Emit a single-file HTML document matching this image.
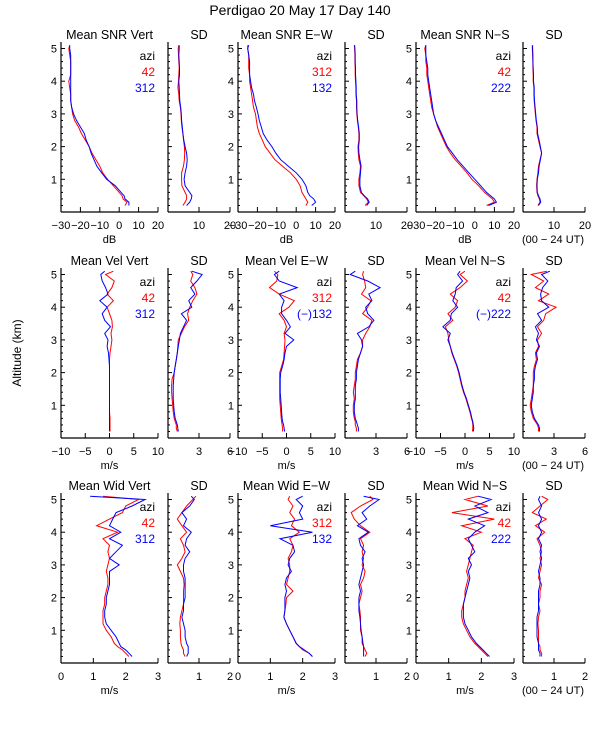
<!DOCTYPE html>
<html><head><meta charset="utf-8"><style>
html,body{margin:0;padding:0;background:#fff}
svg{display:block}
text{font-family:"Liberation Sans",sans-serif;font-size:11px;fill:#000}
</style></head><body>
<svg id="chart" width="600" height="750" viewBox="0 0 600 750" xmlns="http://www.w3.org/2000/svg">
<text x="300" y="15" text-anchor="middle" style="font-size:14px">Perdigao  20 May 17 Day 140</text>
<text x="21" y="353" text-anchor="middle" transform="rotate(-90 21 353)" style="font-size:12px">Altitude (km)</text>
</svg>
<script>
const alts=[0.2,0.3,0.4,0.5,0.6,0.8,1.0,1.2,1.4,1.6,1.8,2.0,2.2,2.4,2.6,2.8,3.0,3.2,3.4,3.6,3.8,4.0,4.2,4.4,4.6,4.8,5.0,5.1];
const snrVertRed=[3,4,2,1.5,0,-3,-6,-8.5,-10,-12,-14,-15.5,-17.5,-19.5,-21,-23,-24,-24.5,-25,-25,-25.5,-26,-25,-25,-25,-25.5,-26,-25.5];
const snrVertBlue=[5,5,3,2.5,1,-2,-6.5,-9,-11.5,-13,-14.5,-15.5,-17,-18,-20,-22,-23.5,-24.5,-25,-25,-25,-25,-25,-25,-25,-25,-25.5,-25.5];
const snrVertSdRed=[4.8,5.5,6,6,5.5,4.5,4.4,4.4,5,5.3,5.4,5.3,5,4.8,4.5,4.3,4.2,4,3.6,3.5,3.2,3.4,3.5,3.6,3.5,3.4,3.3,3.5];
const snrVertSdBlue=[6,7,7.5,7.7,7,5.5,5.2,5.5,6,6.2,6,5.5,5.1,4.8,4.6,4.4,4.3,4.1,3.8,3.7,3.6,3.5,3.7,3.7,3.6,3.5,3.6,3.6];
const snrEwRed=[5,6,5,4,3,2,0,-3,-7,-11,-13.5,-16,-17.5,-19,-20,-20.5,-21,-22,-22.5,-23,-23.5,-24,-24,-24.5,-24.5,-24.5,-25,-25];
const snrEwBlue=[8,10,9,7,6,5,3,0,-4,-8,-10.5,-12.5,-15,-17,-18,-19,-19.7,-20.5,-21.5,-22,-23,-23.5,-24,-24,-24,-24.5,-25,-24.5];
const snrEwSdRed=[6.5,7.5,7,6,5,4.5,4.5,4.8,5,4.5,4.3,4.2,4.5,4.5,4.3,4,3.8,3.7,3.7,3.5,3.5,3.4,3.3,3.3,3.2,3.2,3.1,3];
const snrEwSdBlue=[7,7.8,7.3,6.2,5.3,4.8,4.8,5,5.2,4.8,4.5,4.4,4.6,4.6,4.4,4.1,3.9,3.8,3.8,3.6,3.6,3.5,3.4,3.4,3.3,3.3,3.2,3.1];
const snrNsRed=[6,10,9,7,5,2,-1.5,-4,-7,-10,-12.5,-14.5,-16,-17.5,-19,-20,-21,-22,-22.5,-23,-23.5,-24,-24.5,-24.5,-25,-25,-25.5,-25];
const snrNsBlue=[7,11,10,8,6,3,0,-3,-6,-9,-11.5,-14,-15.5,-17,-18.5,-20,-21,-21.5,-22,-22.5,-23,-23.5,-24,-24,-24.5,-25,-25,-25];
const snrNsSdRed=[4.8,5.5,5.3,4.8,4.5,4.4,4.5,4.8,5,5.5,6,5.5,5,4.5,4.5,4.2,4,3.8,3.6,3.5,3.5,3.3,3.3,3.2,3.2,3.1,3,3];
const snrNsSdBlue=[5,5.7,5.5,5,4.6,4.5,4.6,5,5.2,5.6,6,5.6,5.2,4.7,4.6,4.3,4.1,3.9,3.7,3.6,3.6,3.4,3.4,3.3,3.2,3.2,3.1,3.1];
const velVertRed=[0.1,0.1,0.1,0.1,0.1,0,0,0,0,0,0,0,0,0,0.1,0.3,0.5,0.3,0.6,0.5,0,-0.5,0.8,-0.5,0.5,1,-0.8,0.8];
const velVertBlue=[0,0,0,0,0,0,0,0,0,0,0,0,0,-0.1,-0.2,-0.5,-0.3,-1,0.2,-1,-1.5,-0.5,-2,-0.3,-0.8,-1.5,-1.8,-1];
const velVertSdRed=[0.9,0.8,0.8,0.7,0.6,0.5,0.45,0.4,0.35,0.35,0.4,0.6,0.7,0.8,0.9,0.95,1.0,1.3,1.6,2.0,1.9,2.1,2.4,2.8,2.6,2.2,2.4,2.2];
const velVertSdBlue=[1.0,0.95,0.9,0.8,0.7,0.6,0.55,0.5,0.5,0.5,0.55,0.6,0.7,0.8,0.9,1.0,1.1,1.2,1.5,1.8,1.3,2.3,2.0,2.6,2.2,2.8,3.3,2.3];
const velEwRed=[-0.8,-0.8,-0.9,-1.0,-1.1,-1.2,-1.3,-1.4,-1.4,-1.4,-1.4,-1.4,-1.0,-0.6,-0.5,-0.4,-0.3,-0.5,0,-0.5,-1.5,0.5,1.6,-1.5,-3.5,-2,-1.8,-2.5];
const velEwBlue=[-0.4,-0.5,-0.6,-0.8,-0.9,-1.0,-1.1,-1.2,-1.3,-1.3,-1.3,-1.2,-0.8,-0.5,-0.3,0,1.5,-0.3,0.8,0,-1,-1,-0.5,-1.5,2.2,-1.5,-2.5,-1.5];
const velEwSdRed=[1.1,1.1,1.0,1.0,0.9,0.8,0.8,0.9,0.8,0.9,1.0,1.0,1.1,1.2,1.5,1.7,1.7,2.0,2.4,2.6,1.7,2.2,2.5,1.6,2.0,1.9,1.7,1.8];
const velEwSdBlue=[1.3,1.3,1.2,1.1,1.0,0.9,0.9,1.0,1.0,1.0,1.1,1.1,1.2,1.3,1.5,1.7,1.6,1.2,2.3,2.8,2.2,2.0,2.6,2.3,3.4,2.2,0.5,1.0];
const velNsRed=[1.5,1.6,1.6,1.5,1.3,1.0,0.6,0.2,-0.3,-0.7,-1.0,-1.3,-1.7,-2.2,-2.7,-3.0,-3.3,-3.5,-4.0,-2.5,-3.5,-2.0,-1.5,-3,-1.0,0.5,-1,0];
const velNsBlue=[1.7,1.8,1.7,1.6,1.4,1.1,0.7,0.3,-0.2,-0.6,-0.9,-1.2,-1.6,-2.1,-2.6,-3.0,-3.5,-3.0,-4.5,-3.0,-2.8,-1.5,-2.5,-2,-1.8,-0.5,-1.5,-1];
const velNsSdRed=[1.5,1.5,1.4,1.2,1.0,0.8,0.7,0.8,0.9,1.0,1.0,1.0,1.1,1.3,1.2,1.5,1.4,1.8,1.4,2.0,2.2,3.2,1.5,2.5,1.2,2.0,0.8,2.3];
const velNsSdBlue=[1.6,1.6,1.5,1.3,1.1,0.9,0.8,0.9,1.0,1.0,1.1,1.1,1.2,1.4,1.3,1.6,1.3,1.5,1.2,1.8,1.4,2.5,1.8,1.7,1.9,2.4,1.8,2.6];
const widVertRed=[2.1,2.0,1.9,1.75,1.65,1.55,1.4,1.3,1.3,1.3,1.35,1.35,1.4,1.45,1.45,1.4,1.45,1.5,1.45,1.5,1.3,1.75,1.1,1.5,1.9,2.0,2.4,1.3];
const widVertBlue=[2.2,2.1,2.0,1.85,1.8,1.7,1.55,1.4,1.35,1.35,1.4,1.4,1.45,1.5,1.5,1.5,1.8,1.5,1.7,1.9,1.5,1.85,1.5,1.6,1.7,2.2,2.6,0.9];
const widVertSdRed=[0.55,0.5,0.5,0.45,0.42,0.4,0.4,0.38,0.4,0.45,0.5,0.5,0.5,0.52,0.5,0.4,0.3,0.45,0.55,0.5,0.4,0.6,0.45,0.3,0.45,0.6,0.8,0.9];
const widVertSdBlue=[0.6,0.65,0.65,0.65,0.6,0.55,0.55,0.5,0.45,0.5,0.5,0.55,0.55,0.55,0.55,0.5,0.5,0.55,0.7,0.55,0.6,0.75,0.5,0.6,0.45,0.7,0.85,0.75];
const widEwRed=[2.3,2.2,2.0,1.9,1.8,1.7,1.6,1.5,1.42,1.45,1.48,1.5,1.7,1.5,1.55,1.6,1.6,1.55,1.65,1.7,1.6,1.9,1.65,1.75,1.6,1.7,1.55,1.6];
const widEwBlue=[2.3,2.2,2.05,1.9,1.8,1.7,1.6,1.5,1.42,1.45,1.45,1.45,1.5,1.45,1.5,1.65,1.55,1.6,1.75,1.7,1.3,2.3,1.0,2.0,1.9,2.0,1.8,2.0];
const widEwSdRed=[0.65,0.7,0.65,0.6,0.55,0.55,0.5,0.5,0.5,0.48,0.45,0.5,0.55,0.5,0.6,0.65,0.55,0.6,0.55,0.6,0.5,0.8,0.5,0.3,0.2,0.5,0.9,0.8];
const widEwSdBlue=[0.6,0.6,0.6,0.6,0.58,0.55,0.52,0.5,0.48,0.45,0.45,0.45,0.5,0.45,0.5,0.55,0.6,0.55,0.65,0.5,0.45,0.75,0.4,0.7,0.55,0.8,1.1,0.6];
const widNsRed=[2.2,2.1,2.0,1.9,1.8,1.65,1.55,1.45,1.4,1.4,1.45,1.5,1.5,1.55,1.6,1.55,1.6,1.65,1.7,1.75,1.5,2.0,1.4,2.4,1.1,2.2,1.5,1.9];
const widNsBlue=[2.25,2.15,2.05,1.95,1.85,1.7,1.6,1.5,1.45,1.45,1.45,1.5,1.55,1.6,1.65,1.6,1.7,1.6,1.8,1.7,1.6,1.8,2.1,1.6,2.2,1.8,2.3,1.9];
const widNsSdRed=[0.6,0.6,0.55,0.55,0.5,0.5,0.5,0.48,0.5,0.55,0.5,0.55,0.55,0.6,0.5,0.55,0.6,0.55,0.6,0.55,0.45,0.7,0.4,0.75,0.3,0.55,0.8,0.6];
const widNsSdBlue=[0.55,0.55,0.5,0.5,0.5,0.45,0.45,0.45,0.45,0.5,0.5,0.5,0.5,0.55,0.55,0.5,0.55,0.6,0.55,0.6,0.5,0.6,0.5,0.6,0.5,0.6,0.5,0.55];
const yTicks=[1,2,3,4,5];
const snrTicks=[-30,-20,-10,0,10,20];
const velTicks=[-10,-5,0,5,10];
const widTicks=[0,1,2,3];
const snrSdTicks=[10,20];
const velSdTicks=[3,6];
const widSdTicks=[1,2];

const NS='http://www.w3.org/2000/svg';
const svg=document.getElementById('chart');
function el(tag,attrs,parent){const e=document.createElementNS(NS,tag);for(const k in attrs)e.setAttribute(k,attrs[k]);(parent||svg).appendChild(e);return e;}
const rowBottoms=[212,438,663];
const PXKM=32.7;
const meanX=[[61,158],[238,335],[416,514]];
const sdX=[[168,230],[345,407],[523,585]];
const rows=[
 {kind:'SNR',unit:'dB',dom:[-30,20],ticks:snrTicks,sdDom:[0,20],sdTicks:snrSdTicks,
  data:[[snrVertRed,snrVertBlue,snrVertSdRed,snrVertSdBlue],[snrEwRed,snrEwBlue,snrEwSdRed,snrEwSdBlue],[snrNsRed,snrNsBlue,snrNsSdRed,snrNsSdBlue]],
  legend:[['42','312'],['312','132'],['42','222']]},
 {kind:'Vel',unit:'m/s',dom:[-10,10],ticks:velTicks,sdDom:[0,6],sdTicks:velSdTicks,
  data:[[velVertRed,velVertBlue,velVertSdRed,velVertSdBlue],[velEwRed,velEwBlue,velEwSdRed,velEwSdBlue],[velNsRed,velNsBlue,velNsSdRed,velNsSdBlue]],
  legend:[['42','312'],['312','(\u2212)132'],['42','(\u2212)222']]},
 {kind:'Wid',unit:'m/s',dom:[0,3],ticks:widTicks,sdDom:[0,2],sdTicks:widSdTicks,
  data:[[widVertRed,widVertBlue,widVertSdRed,widVertSdBlue],[widEwRed,widEwBlue,widEwSdRed,widEwSdBlue],[widNsRed,widNsBlue,widNsSdRed,widNsSdBlue]],
  legend:[['42','312'],['312','132'],['42','222']]}
];
const dirs=['Vert','E\u2212W','N\u2212S'];
const dirKeys=['vert','ew','ns'];

function panel(r,c,isSd){
  const R=rows[r];const b=rowBottoms[r];
  const [x0,x1]=isSd?sdX[c]:meanX[c];
  const dom=isSd?R.sdDom:R.dom;
  const sx=v=>x0+(v-dom[0])/(dom[1]-dom[0])*(x1-x0);
  const sy=a=>b-a*PXKM;
  const top=sy(5.2);
  const g=el('g',{});
  
  
  el('line',{x1:x0,y1:top,x2:x0,y2:b,stroke:'#000','stroke-width':1.2},g);
  el('line',{x1:x0,y1:b,x2:x1,y2:b,stroke:'#000','stroke-width':1.2},g);
  for(let k=1;k<26;k++){const a=k*0.2;const y=sy(a);const major=Math.abs(a-Math.round(a))<1e-6;
    el('line',{x1:x0,y1:y,x2:x0+(major?4:2),y2:y,stroke:'#000','stroke-width':1},g);}
  if(!isSd){yTicks.forEach(t=>{const tx=el('text',{x:x0-4,y:sy(t)+4,'text-anchor':'end'},g);tx.textContent=t;
    });}
  const ticks=isSd?R.sdTicks:R.ticks;
  ticks.forEach(t=>{const x=sx(t);el('line',{x1:x,y1:b,x2:x,y2:b-5,stroke:'#000','stroke-width':1},g);
    const tx=el('text',{x:x,y:b+17,'text-anchor':'middle'},g);tx.textContent=String(t).replace('-','\u2212');
    });
  const t=el('text',{x:(x0+x1)/2,y:b-173,'text-anchor':'middle',style:'font-size:12.5px'},g);
  t.textContent=isSd?'SD':'Mean '+R.kind+' '+dirs[c];
  
  if(!isSd){const u=el('text',{x:(x0+x1)/2,y:b+31,'text-anchor':'middle'},g);u.textContent=R.unit;
    
    const L=R.legend[c];
    [['azi','#000'],[L[0],'#f00'],[L[1],'#00f']].forEach((e,i)=>{const lt=el('text',{x:x1-3,y:b-152+i*16,'text-anchor':'end',style:'font-size:12px;fill:'+e[1]},g);lt.textContent=e[0];
      });}
  const D=R.data[c];
  const series=isSd?[D[2],D[3]]:[D[0],D[1]];
  ['#f00','#00f'].forEach((col,i)=>{
    const vals=series[i];
    let d='';
    vals.forEach((v,j)=>{const x=sx(v),y=sy(alts[j]);d+=(j===0?'M':' L')+x.toFixed(1)+' '+y.toFixed(1);});
    const p=el('path',{d:d,fill:'none',stroke:col,'stroke-width':1},g);
    
    
  });
}
for(let r=0;r<3;r++){for(let c=0;c<3;c++){panel(r,c,false);panel(r,c,true);}
  const ut=el('text',{x:553,y:rowBottoms[r]+31,'text-anchor':'middle'});ut.textContent='(00 \u2212 24 UT)';
  }
</script>
</body></html>
